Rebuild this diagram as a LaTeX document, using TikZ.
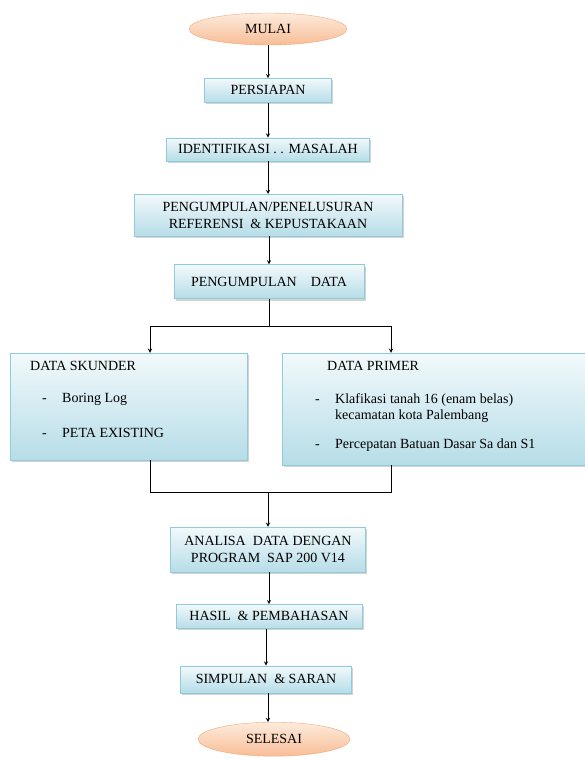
\documentclass[tikz,border=0pt]{standalone}
\usepackage{fontspec}
\setmainfont{Liberation Serif}
\usepackage{tikz}
\usetikzlibrary{shapes.geometric, arrows, positioning, shadows}

\definecolor{boxtop}{HTML}{F2F9FB}
\definecolor{boxbot}{HTML}{B6DDE8}
\definecolor{boxline}{HTML}{8FCBDA}
\definecolor{endtop}{HTML}{FDEBDD}
\definecolor{endbot}{HTML}{F8BD96}
\definecolor{endline}{HTML}{F2A878}

\begin{document}
\begin{tikzpicture}[
    x=1pt, y=1pt,
    node distance=33pt,
    font=\fontsize{14}{16.5}\selectfont,
    box/.style={draw=boxline, rectangle, top color=boxtop, bottom color=boxbot, align=center, inner sep=2pt,
        drop shadow={shadow xshift=1.5pt, shadow yshift=-2pt, opacity=0.35}},
    term/.style={draw=endline, ellipse, top color=endtop, bottom color=endbot, inner sep=0pt},
    item/.style={anchor=base west, inner sep=0pt},
    arrow/.style={->, >=stealth, line width=0.9pt},
    line/.style={line width=0.9pt}
]
\useasboundingbox (0,0) rectangle (584,-760);

% Tahap awal
\node (mulai) [term, minimum width=158pt, minimum height=32pt] at (268,-29) {MULAI};
\node (persiapan) [box, minimum width=127pt, minimum height=24pt, below=of mulai] {PERSIAPAN};
\node (identifikasi) [box, minimum width=203pt, minimum height=23pt, below=35pt of persiapan] {IDENTIFIKASI . . MASALAH};
\node (referensi) [box, minimum width=268pt, minimum height=42pt, below=of identifikasi] {PENGUMPULAN/PENELUSURAN\\REFERENSI\ \ \& KEPUSTAKAAN};
\node (data) [box, minimum width=190pt, minimum height=34pt, below=28pt of referensi, xshift=1pt] {PENGUMPULAN\quad DATA};

% Data sekunder dan primer
\node (skunder) [box, minimum width=237pt, minimum height=107pt] at (128.5,-406.5) {};
\node (sktitle) [item] at (30,-370) {DATA SKUNDER};
\node (skdash1) [item] at (42,-402) {-};
\node (skitem1) [item] at (62,-402) {Boring Log};
\node (skdash2) [item] at (42,-437) {-};
\node (skitem2) [item] at (62,-437) {PETA EXISTING};

\node (primer) [box, minimum width=310pt, minimum height=112pt] at (437,-409) {};
\node (prtitle) [item] at (327,-370) {DATA PRIMER};
\node (prdash1) [item] at (315,-403) {-};
\node (pritem1) [item] at (335,-403) {Klafikasi tanah 16 (enam belas)};
\node (pritem1b) [item] at (335,-419) {kecamatan kota Palembang};
\node (prdash2) [item] at (315,-448) {-};
\node (pritem2) [item] at (335,-448) {Percepatan Batuan Dasar Sa dan S1};

% Tahap akhir
\node (analisa) [box, minimum width=195pt, minimum height=45pt] at (268,-549.5) {ANALISA\ \ DATA DENGAN\\PROGRAM\ \ SAP 200 V14};
\node (hasil) [box, minimum width=186pt, minimum height=24pt, below=32pt of analisa, xshift=1pt] {HASIL\ \ \& PEMBAHASAN};
\node (simpulan) [box, minimum width=171pt, minimum height=27pt, below=37pt of hasil, xshift=-3pt] {SIMPULAN\ \ \& SARAN};
\node (selesai) [term, minimum width=152pt, minimum height=34pt, below=29pt of simpulan, xshift=8pt] {SELESAI};

% Titik cabang
\coordinate [below=28pt of data.south] (split);
\coordinate (skin) at ([xshift=21.5pt]skunder.north);
\coordinate (prin) at ([xshift=-46pt]primer.north);
\coordinate (skout) at ([xshift=21.5pt]skunder.south);
\coordinate (prout) at ([xshift=-46pt]primer.south);
\coordinate [above=34pt of analisa.north] (merge);

% Panah
\draw[arrow] (mulai) -- (persiapan);
\draw[arrow] (persiapan) -- (identifikasi);
\draw[arrow] (identifikasi) -- (referensi);
\draw[arrow] (referensi.south -| data.north) -- (data);
\draw[line] (data) -- (split);
\draw[arrow] (split) -| (skin);
\draw[arrow] (split) -| (prin);
\draw[line] (skout) |- (merge) -| (prout);
\draw[arrow] (merge) -- (analisa);
\draw[arrow] (analisa.south -| hasil.north) -- (hasil);
\draw[arrow] (hasil.south -| simpulan.north) -- (simpulan);
\draw[arrow] (simpulan.south -| 268,0) -- (selesai.north -| 268,0);

\end{tikzpicture}
\end{document}
